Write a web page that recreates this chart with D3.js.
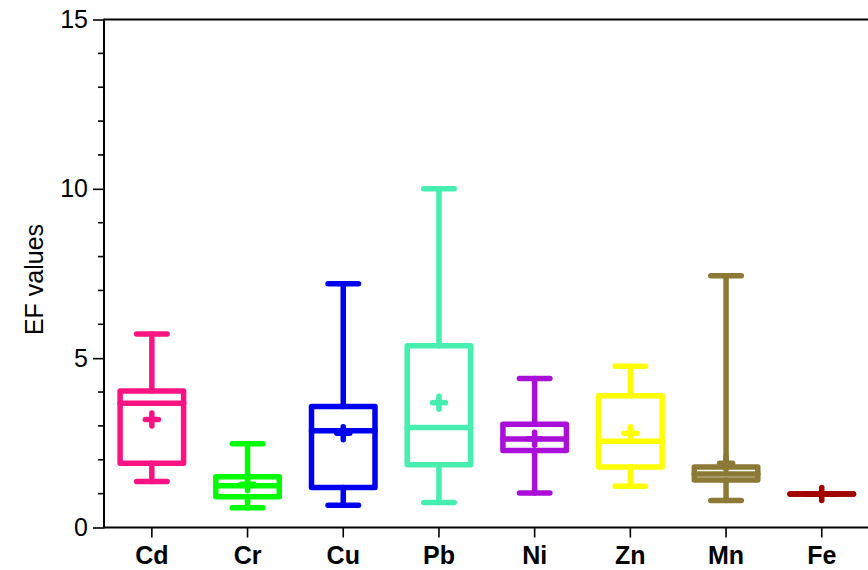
<!DOCTYPE html>
<html>
<head>
<meta charset="utf-8">
<script src="https://cdn.jsdelivr.net/npm/d3@7"></script>
<style>
  html, body { margin: 0; padding: 0; background: #fff; }
  svg { display: block; font-family: "Liberation Sans", Arial, sans-serif; }
</style>
</head>
<body>
<svg id="chart" width="868" height="570"></svg>
<script>
// Enrichment factor summaries per element
const elements = ["Cd", "Cr", "Cu", "Pb", "Ni", "Zn", "Mn", "Fe"];
const whiskerLow  = [1.36, 0.58, 0.66, 0.74, 1.02, 1.22, 0.80, 0.99];
const quartile1   = [1.90, 0.91, 1.18, 1.85, 2.27, 1.79, 1.40, 0.99];
const medians     = [3.67, 1.23, 2.86, 2.95, 2.61, 2.55, 1.58, 0.99];
const quartile3   = [4.03, 1.50, 3.57, 5.37, 3.05, 3.89, 1.79, 0.99];
const whiskerHigh = [5.71, 2.47, 7.20, 10.00, 4.40, 4.76, 7.43, 1.00];
const means       = [3.19, 1.28, 2.78, 3.68, 2.62, 2.78, 1.90, 0.99];
const colors = ["#FA1483", "#00FF00", "#0000F0", "#46EFB0", "#A90FD9", "#FFFF00", "#8B7935", "#A30000"];
const yTicks = [0, 5, 10, 15];

const svg = d3.select("#chart");
const plotLeft = 104, plotRight = 869.6, plotTop = 19.5, plotBottom = 527.5;

const x = d3.scaleBand().domain(elements).range([plotLeft, plotRight]).padding(0);
const y = d3.scaleLinear().domain([0, 15]).range([plotBottom, plotTop]);

const rows = elements.map((e, i) => ({
  name: e, lo: whiskerLow[i], q1: quartile1[i], med: medians[i],
  q3: quartile3[i], hi: whiskerHigh[i], mean: means[i], color: colors[i]
}));

// Y axis with minor ticks every unit
const yAxis = svg.append("g").attr("transform", `translate(${plotLeft},0)`);
yAxis.call(d3.axisLeft(y).tickValues(yTicks).tickSize(11).tickPadding(5).tickFormat(d3.format("d")));
yAxis.selectAll(".tick text").attr("font-size", 25).attr("fill", "#000");
yAxis.select(".domain").remove();
yAxis.selectAll(".minor").data(d3.range(0, 16).filter(v => v % 5 !== 0))
  .enter().append("line")
  .attr("x1", -6).attr("x2", 0)
  .attr("y1", d => y(d)).attr("y2", d => y(d))
  .attr("stroke", "#000").attr("stroke-width", 1.6);
yAxis.selectAll(".tick line").attr("stroke", "#000").attr("stroke-width", 1.6);
yAxis.append("line").attr("x1", 0).attr("x2", 0).attr("y1", y(15) - 0.8).attr("y2", y(0) + 0.8)
  .attr("stroke", "#000").attr("stroke-width", 2);

// Top frame line
svg.append("line").attr("x1", plotLeft).attr("x2", 868).attr("y1", y(15)).attr("y2", y(15))
  .attr("stroke", "#000").attr("stroke-width", 2);

// X axis
const xAxis = svg.append("g").attr("transform", `translate(0,${plotBottom})`);
xAxis.call(d3.axisBottom(x).tickSize(10).tickPadding(9).tickSizeOuter(0));
xAxis.select(".domain").remove();
xAxis.append("line").attr("x1", plotLeft).attr("x2", 868).attr("y1", 0).attr("y2", 0)
  .attr("stroke", "#000").attr("stroke-width", 2);
xAxis.selectAll(".tick line").attr("stroke", "#000").attr("stroke-width", 1.6);
xAxis.selectAll(".tick text").attr("font-size", 25).attr("font-weight", "bold").attr("fill", "#000");

// Y axis title
svg.append("text")
  .attr("transform", `translate(43,${(plotTop + plotBottom) / 2 + 6}) rotate(-90)`)
  .attr("text-anchor", "middle")
  .attr("font-size", 25)
  .text("EF values");

// Box plots
const boxW = 63.5, capW = 30.5, sw = 5.5, plus = 6.5;
const g = svg.append("g").attr("fill", "none").attr("stroke-linecap", "round").attr("stroke-linejoin", "round");
const box = g.selectAll(".box").data(rows).enter().append("g")
  .attr("class", "box")
  .attr("stroke", d => d.color)
  .attr("stroke-width", sw)
  .attr("transform", d => `translate(${x(d.name) + x.bandwidth() / 2},0)`);

box.append("line").attr("x1", 0).attr("x2", 0).attr("y1", d => y(d.q3)).attr("y2", d => y(d.hi));
box.append("line").attr("x1", 0).attr("x2", 0).attr("y1", d => y(d.q1)).attr("y2", d => y(d.lo));
box.append("line").attr("x1", -capW / 2).attr("x2", capW / 2).attr("y1", d => y(d.hi)).attr("y2", d => y(d.hi));
box.append("line").attr("x1", -capW / 2).attr("x2", capW / 2).attr("y1", d => y(d.lo)).attr("y2", d => y(d.lo));
box.append("rect")
  .attr("x", -boxW / 2).attr("width", boxW)
  .attr("y", d => y(d.q3)).attr("height", d => Math.max(0.01, y(d.q1) - y(d.q3)));
box.append("line").attr("x1", -boxW / 2).attr("x2", boxW / 2).attr("y1", d => y(d.med)).attr("y2", d => y(d.med));
// mean marker
box.append("line").attr("x1", -plus).attr("x2", plus).attr("y1", d => y(d.mean)).attr("y2", d => y(d.mean));
box.append("line").attr("x1", 0).attr("x2", 0).attr("y1", d => y(d.mean) - plus).attr("y2", d => y(d.mean) + plus);
</script>
</body>
</html>
